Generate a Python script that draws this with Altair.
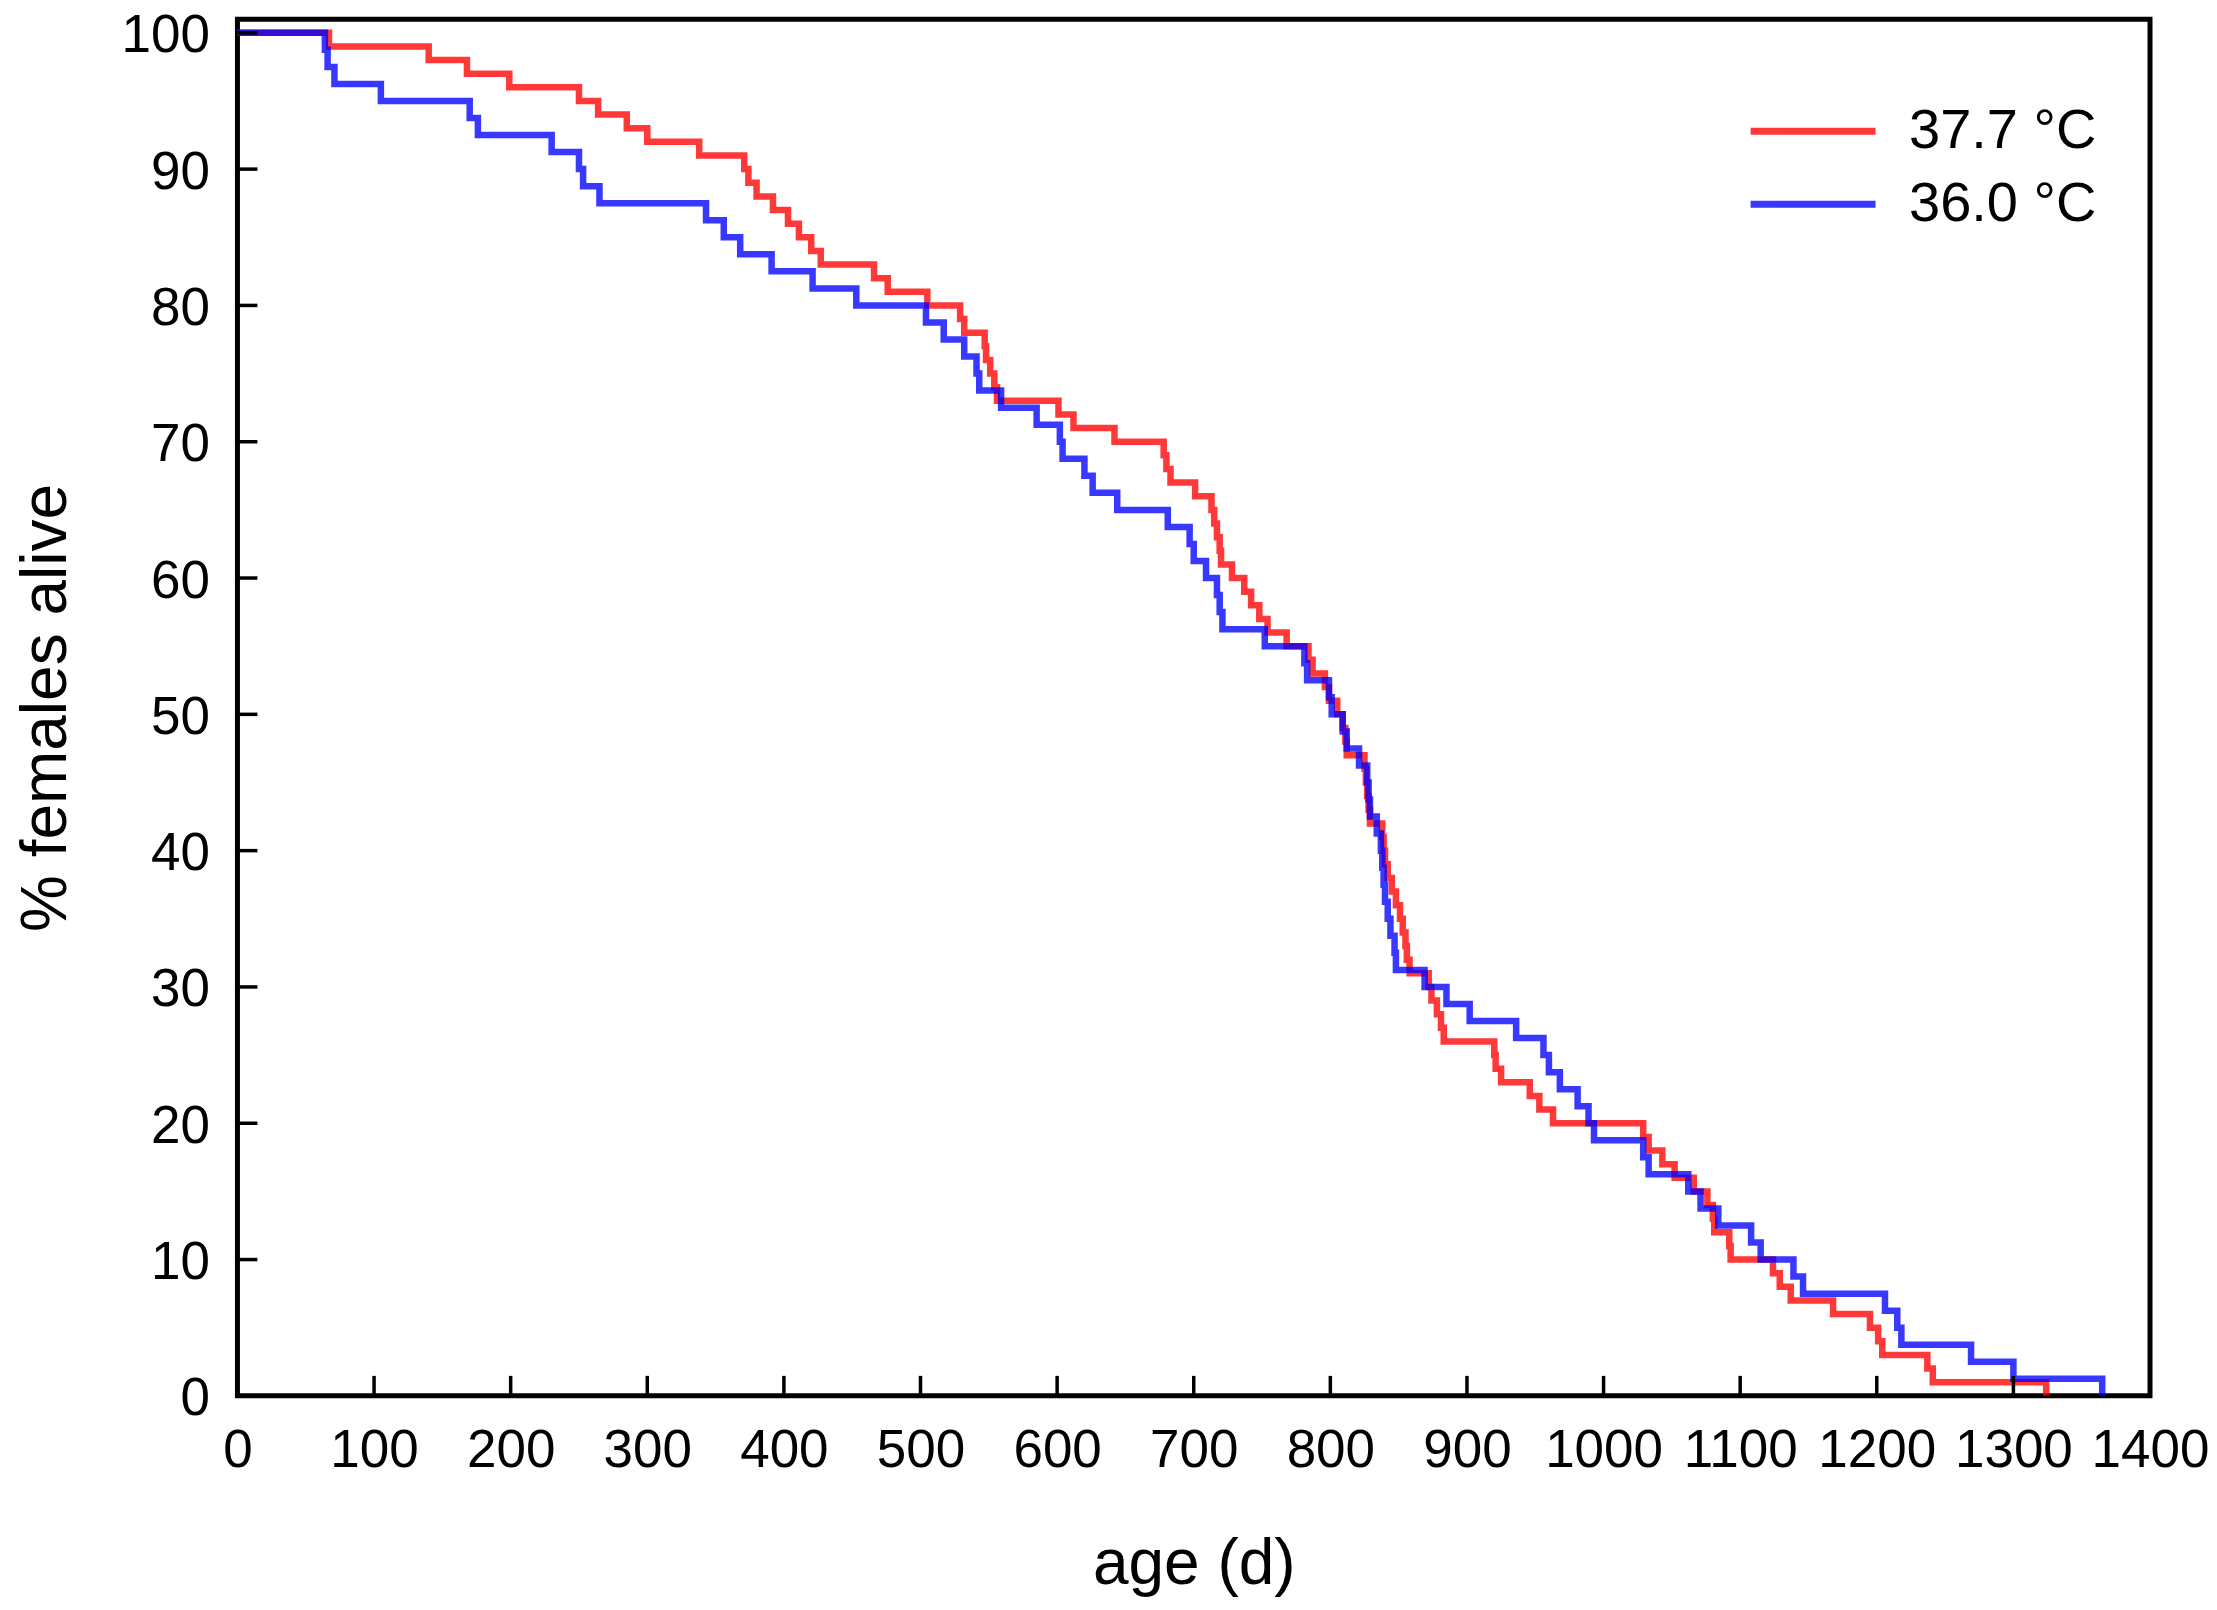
import altair as alt
import pandas as pd

# ---- data (Kaplan-Meier style step curves) ----
red_label = "37.7 °C"
blue_label = "36.0 °C"

red_age = [0, 67, 140, 168, 199, 250, 264, 285, 300, 338,
           371, 374, 380, 392, 403, 411, 420, 427, 466, 476,
           505, 529, 532, 547, 548, 551, 554, 556, 601, 612,
           642, 678, 680, 683, 701, 713, 715, 717, 719, 720,
           728, 737, 742, 748, 754, 768, 784, 787, 796, 799,
           805, 809, 811, 812, 825, 826, 827, 828, 829, 838,
           839, 840, 842, 845, 848, 851, 853, 855, 856, 858,
           872, 874, 878, 881, 883, 920, 921, 925, 946, 953,
           963, 1029, 1033, 1043, 1052, 1066, 1076, 1080, 1081, 1092,
           1093, 1124, 1129, 1137, 1168, 1195, 1201, 1204, 1237, 1241,
           1324]
red_pct = [100, 99, 98, 97, 96, 95, 94, 93, 92, 91,
           90, 89, 88, 87, 86, 85, 84, 83, 82, 81,
           80, 79, 78, 77, 76, 75, 74, 73, 72, 71,
           70, 69, 68, 67, 66, 65, 64, 63, 62, 61,
           60, 59, 58, 57, 56, 55, 54, 53, 52, 51,
           50, 49, 48, 47, 46, 45, 44, 43, 42, 41,
           40, 39, 38, 37, 36, 35, 34, 33, 32, 31,
           30, 29, 28, 27, 26, 25, 24, 23, 22, 21,
           20, 19, 18, 17, 16, 15, 14, 13, 12, 11,
           10, 9, 8, 7, 6, 5, 4, 3, 2, 1,
           0]

blue_age = [0, 64, 66, 71, 105, 170, 176, 230, 250, 253,
            265, 343, 356, 368, 391, 421, 453, 504, 517, 532,
            541, 543, 559, 585, 602, 604, 620, 626, 644, 681,
            697, 700, 709, 717, 719, 721, 752, 781, 783, 799,
            801, 809, 812, 821, 827, 828, 829, 834, 837, 838,
            839, 840, 842, 844, 847, 848, 869, 885, 902, 936,
            956, 960, 968, 981, 989, 993, 1029, 1033, 1062, 1071,
            1084, 1108, 1115, 1139, 1146, 1206, 1215, 1218, 1269, 1300,
            1365]
blue_pct = [100, 98.75, 97.5, 96.25, 95, 93.75, 92.5, 91.25, 90, 88.75,
            87.5, 86.25, 85, 83.75, 82.5, 81.25, 80, 78.75, 77.5, 76.25,
            75, 73.75, 72.5, 71.25, 70, 68.75, 67.5, 66.25, 65, 63.75,
            62.5, 61.25, 60, 58.75, 57.5, 56.25, 55, 53.75, 52.5, 51.25,
            50, 48.75, 47.5, 46.25, 45, 43.75, 42.5, 41.25, 40, 38.75,
            37.5, 36.25, 35, 33.75, 32.5, 31.25, 30, 28.75, 27.5, 26.25,
            25, 23.75, 22.5, 21.25, 20, 18.75, 17.5, 16.25, 15, 13.75,
            12.5, 11.25, 10, 8.75, 7.5, 6.25, 5, 3.75, 2.5, 1.25,
            0]

x_ticks = [0, 100, 200, 300, 400, 500, 600, 700, 800, 900, 1000, 1100, 1200, 1300, 1400]
y_ticks = [0, 10, 20, 30, 40, 50, 60, 70, 80, 90, 100]
x_inner_ticks = x_ticks[1:-1]
y_inner_ticks = y_ticks[1:]

W, H = 1913, 1377
FONT = "Liberation Sans"

df = pd.concat([
    pd.DataFrame({"t": red_age, "v": red_pct, "series": red_label}),
    pd.DataFrame({"t": blue_age, "v": blue_pct, "series": blue_label}),
], ignore_index=True)

xscale = alt.Scale(domain=[0, 1400], nice=False, zero=False)
yscale = alt.Scale(domain=[0, 101], nice=False, zero=False)

xaxis = alt.Axis(values=x_ticks, format="d", title="age (d)", ticks=False, tickSize=0, domain=False, grid=False,
                 labelFontSize=53, labelFont=FONT, labelColor="black", labelPadding=29,
                 titleFontSize=64, titleFont=FONT, titleFontWeight="normal", titleColor="black",
                 titlePadding=55, labelFlush=False)
yaxis = alt.Axis(values=y_ticks, format="d", title="% females alive", ticks=False, tickSize=0, domain=False, grid=False,
                 labelFontSize=53, labelFont=FONT, labelColor="black", labelPadding=28, labelOffset=3,
                 titleFontSize=64, titleFont=FONT, titleFontWeight="normal", titleColor="black",
                 titlePadding=43, labelFlush=False)

color = alt.Color("series:N",
                  scale=alt.Scale(domain=[red_label, blue_label], range=["#ff0000", "#0000ff"]),
                  legend=alt.Legend(title=None, orient="none", legendX=1510, legendY=82,
                                    symbolType="stroke", symbolSize=15625, symbolStrokeWidth=7,
                                    symbolOpacity=0.78, clipHeight=60,
                                    labelFontSize=56, labelFont=FONT, labelColor="black",
                                    labelLimit=0, labelOffset=30, rowPadding=13, padding=0))

base = alt.Chart(df)
red_line = base.transform_filter(alt.datum.series == red_label).mark_line(
    interpolate="step-after", strokeWidth=6.5, opacity=0.78).encode(
    x=alt.X("t:Q", scale=xscale, axis=xaxis),
    y=alt.Y("v:Q", scale=yscale, axis=yaxis),
    color=color,
)
blue_line = base.transform_filter(alt.datum.series == blue_label).mark_line(
    interpolate="step-after", strokeWidth=6.5, opacity=0.78).encode(
    x=alt.X("t:Q", scale=xscale, axis=xaxis),
    y=alt.Y("v:Q", scale=yscale, axis=yaxis),
    color=color,
)

xt = alt.Chart(pd.DataFrame({"t": x_inner_ticks})).mark_rule(color="black", strokeWidth=3.5).encode(
    x=alt.X("t:Q", scale=xscale, axis=xaxis),
    y=alt.value(H), y2=alt.value(H - 20),
)
yt = alt.Chart(pd.DataFrame({"v": y_inner_ticks})).mark_rule(color="black", strokeWidth=3.5).encode(
    y=alt.Y("v:Q", scale=yscale, axis=yaxis),
    x=alt.value(0), x2=alt.value(20),
)

chart = alt.layer(red_line, blue_line, xt, yt).properties(
    width=W, height=H,
    autosize=alt.AutoSizeParams(type="none"),
    padding={"left": 229.5, "top": 11, "right": 59, "bottom": 206},
    background="white",
).configure_view(stroke="black", strokeWidth=5)

chart.save("out.html", embed_options={"renderer": "svg", "actions": False})
